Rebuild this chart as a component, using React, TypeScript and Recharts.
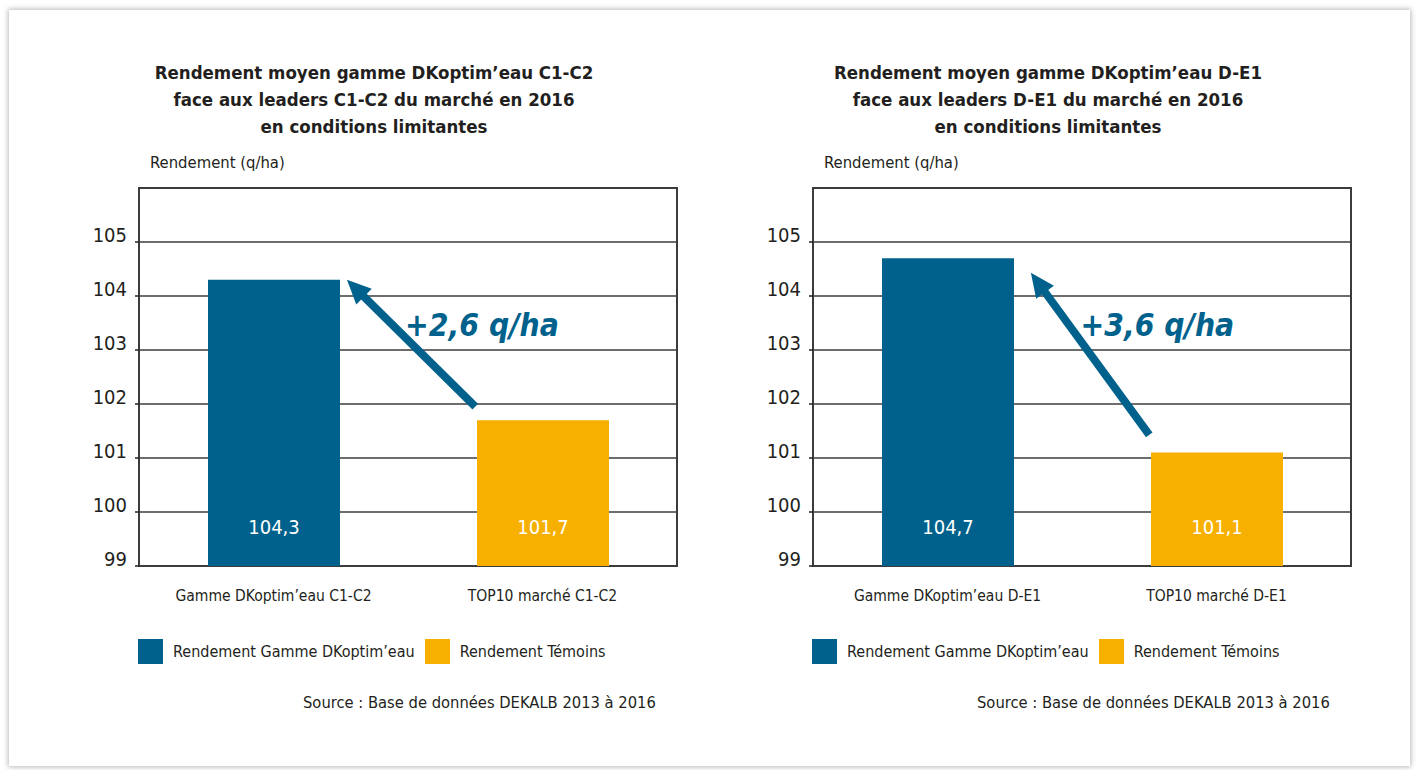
import React from 'react';
import {
  BarChart,
  Bar,
  XAxis,
  YAxis,
  CartesianGrid,
  Cell,
  LabelList,
  ReferenceArea,
  ReferenceLine,
  ReferenceDot,
} from 'recharts';

const FONT = "'Liberation Sans Narrow', 'DejaVu Sans Condensed', Roboto, sans-serif";
const BLUE = '#00628c';
const ORANGE = '#f8b000';
const INK = '#231f20';
const GRID = '#3c3c3c';

// values
const yTicks = [99, 100, 101, 102, 103, 104, 105];
const yDomain = [99, 106];

const leftCategories = ['Gamme DKoptim’eau C1-C2', 'TOP10 marché C1-C2'];
const leftValues = [104.3, 101.7];
const rightCategories = ['Gamme DKoptim’eau D-E1', 'TOP10 marché D-E1'];
const rightValues = [104.7, 101.1];
const barColors = [BLUE, ORANGE];
// slot centres on the hidden 0..2 axis used for the arrows
const slotCentres = [0.5, 1.5];

const legendLabels = ['Rendement Gamme DKoptim’eau', 'Rendement Témoins'];

const leftTitle = [
  'Rendement moyen gamme DKoptim’eau C1-C2',
  'face aux leaders C1-C2 du marché en 2016',
  'en conditions limitantes',
];
const rightTitle = [
  'Rendement moyen gamme DKoptim’eau D-E1',
  'face aux leaders D-E1 du marché en 2016',
  'en conditions limitantes',
];

// gain arrows, on a hidden 0..2 axis across the two categories
const leftGain = '+2,6 q/ha';
const leftArrow = [{ x: 1.25, y: 101.95 }, { x: 0.773, y: 104.3 }];
const leftGainAt = { x: 1.275, y: 103.46 };
const rightGain = '+3,6 q/ha';
const rightArrow = [{ x: 1.25, y: 101.43 }, { x: 0.81, y: 104.43 }];
const rightGainAt = { x: 1.28, y: 103.46 };

const yLabel = 'Rendement (q/ha)';
const source = 'Source : Base de données DEKALB 2013 à 2016';

const fmt = (v: number) => v.toFixed(1).replace('.', ',');

function YTick({ x, y, payload }: any) {
  return (
    <text x={x} y={y - 7} textAnchor="end" dominantBaseline="central" fontFamily={FONT} fontSize={20} fill={INK}>
      {payload.value}
    </text>
  );
}

function XTick({ x, y, payload }: any) {
  return (
    <text x={x} y={y + 30} textAnchor="middle" dominantBaseline="central" fontFamily={FONT} fontSize={15.5} fill={INK}>
      {payload.value}
    </text>
  );
}

function BarValue({ x, y, width, height, value }: any) {
  return (
    <text
      x={x + width / 2}
      y={y + height - 39}
      textAnchor="middle"
      dominantBaseline="central"
      fontFamily={FONT}
      fontSize={20}
      fill="#fff"
    >
      {fmt(value)}
    </text>
  );
}

function Arrow({ x1, y1, x2, y2 }: any) {
  const dx = x2 - x1;
  const dy = y2 - y1;
  const len = Math.hypot(dx, dy) || 1;
  const ux = dx / len;
  const uy = dy / len;
  const head = 24;
  const half = 11;
  const bx = x2 - ux * head;
  const by = y2 - uy * head;
  const px = -uy;
  const py = ux;
  return (
    <g>
      <line x1={x1} y1={y1} x2={bx + ux * 3} y2={by + uy * 3} stroke={BLUE} strokeWidth={8} />
      <polygon
        points={`${x2},${y2} ${bx + px * half},${by + py * half} ${bx - px * half},${by - py * half}`}
        fill={BLUE}
      />
    </g>
  );
}

function Panel({ left, title, categories, values, gain, arrow, gainAt }: any) {
  const data = categories.map((name: string, i: number) => ({ name, value: values[i], slot: slotCentres[i] }));
  return (
    <div style={{ position: 'absolute', left, top: 0, width: 700, height: 740 }}>
      <div
        style={{
          position: 'absolute',
          left: 74,
          top: 59,
          width: 600,
          textAlign: 'center',
          fontWeight: 700,
          fontSize: 18.5,
          lineHeight: '27px',
          color: INK,
        }}
      >
        {title.map((t: string) => (
          <div key={t}>{t}</div>
        ))}
      </div>
      <div style={{ position: 'absolute', left: 150, top: 153, fontSize: 16.5, lineHeight: '20px', color: INK }}>
        {yLabel}
      </div>

      <div style={{ position: 'absolute', left: 0, top: 0 }}>
        <BarChart
          width={700}
          height={620}
          data={data}
          margin={{ top: 188, right: 23, bottom: 14, left: 0 }}
          barSize={132}
        >
          <CartesianGrid vertical={false} stroke={GRID} strokeWidth={1.5} />
          <XAxis dataKey="name" axisLine={false} tickLine={false} tickSize={0} tickMargin={0} height={40} interval={0} tick={<XTick />} />
          <XAxis xAxisId="pos" dataKey="slot" type="number" domain={[0, 2]} allowDataOverflow hide />
          <YAxis
            domain={yDomain}
            ticks={yTicks}
            allowDataOverflow
            width={139}
            interval={0}
            axisLine={false}
            tickSize={4}
            tickMargin={8}
            tickLine={{ stroke: INK, strokeWidth: 1.5 }}
            tick={<YTick />}
          />
          <ReferenceArea y1={99} y2={106} fill="none" stroke={GRID} strokeWidth={2} ifOverflow="visible" />
          <Bar dataKey="value" isAnimationActive={false}>
            {data.map((d: any, i: number) => (
              <Cell key={d.name} fill={barColors[i]} />
            ))}
            <LabelList dataKey="value" content={<BarValue />} />
          </Bar>
          <ReferenceLine xAxisId="pos" segment={arrow} shape={(p: any) => <Arrow {...p} />} ifOverflow="visible" />
          <ReferenceDot
            xAxisId="pos"
            x={gainAt.x}
            y={gainAt.y}
            ifOverflow="visible"
            shape={(p: any) => (
              <text
                x={p.cx}
                y={p.cy}
                textAnchor="middle"
                dominantBaseline="central"
                fontFamily={FONT}
                fontSize={31.5}
                fontWeight={700}
                fontStyle="italic"
                fill={BLUE}
              >
                {gain}
              </text>
            )}
          />
        </BarChart>
      </div>

      <div
        style={{
          position: 'absolute',
          left: 138,
          top: 639,
          display: 'flex',
          alignItems: 'center',
          fontSize: 16,
          color: INK,
        }}
      >
        {legendLabels.map((l, i) => (
          <React.Fragment key={l}>
            <span style={{ width: 25, height: 25, background: barColors[i], marginRight: 10, marginLeft: i ? 10 : 0 }} />
            <span>{l}</span>
          </React.Fragment>
        ))}
      </div>
      <div style={{ position: 'absolute', left: 303, top: 692, fontSize: 16.4, lineHeight: '22px', color: INK }}>
        {source}
      </div>
    </div>
  );
}

export default function App() {
  return (
    <div
      style={{
        position: 'absolute',
        left: 0,
        top: 0,
        width: 1418,
        height: 770,
        overflow: 'hidden',
        background: '#fff',
        fontFamily: FONT,
      }}
    >
      <div
        style={{
          position: 'absolute',
          left: 9,
          top: 10,
          width: 1401,
          height: 756,
          background: '#fff',
          boxShadow: '0 0 5px 1px rgba(0,0,0,0.28)',
        }}
      />
      <Panel
        left={0}
        title={leftTitle}
        categories={leftCategories}
        values={leftValues}
        gain={leftGain}
        arrow={leftArrow}
        gainAt={leftGainAt}
      />
      <Panel
        left={674}
        title={rightTitle}
        categories={rightCategories}
        values={rightValues}
        gain={rightGain}
        arrow={rightArrow}
        gainAt={rightGainAt}
      />
    </div>
  );
}
